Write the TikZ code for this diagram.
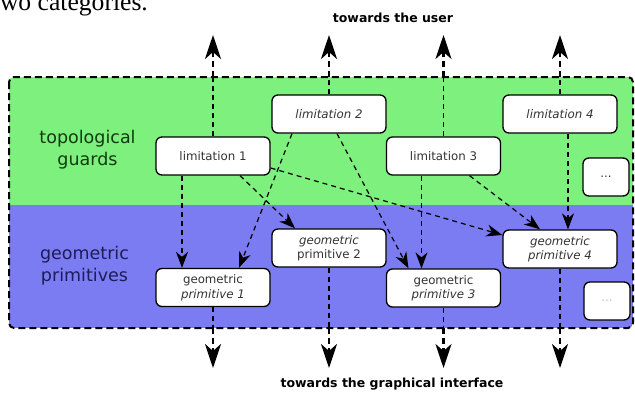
\documentclass[tikz,border=0pt]{standalone}
\usepackage{fontspec}
\setmainfont{DejaVu Sans}
\newfontfamily\docserif{Liberation Serif}
\usetikzlibrary{arrows.meta}
\definecolor{guardgreen}{HTML}{7EF07E}
\definecolor{primblue}{HTML}{7C7CF2}
\definecolor{guardtext}{HTML}{103A10}
\definecolor{primtext}{HTML}{1C1C58}
\definecolor{boxtext}{HTML}{333333}
\begin{document}
\begin{tikzpicture}[x=1pt,y=-1pt,
	box/.style={draw,line width=1.3pt,fill=white,rounded corners=6pt,minimum width=114pt,minimum height=38pt,inner sep=1pt,align=center,text=boxtext,font=\fontsize{11.8}{14.5}\selectfont},
	morebox/.style={box,minimum width=46pt},
	link/.style={line width=1.2pt,dash pattern=on 5pt off 4pt,-{Stealth[length=16pt,width=12pt,inset=5pt]}},
	exit/.style={line width=2.6pt,dash pattern=on 6pt off 4pt,-{Stealth[length=24pt,width=16pt,inset=7pt]}},
	side/.style={align=center,font=\fontsize{17.5}{22}\selectfont},
	caption/.style={font=\fontsize{12.5}{14}\selectfont\bfseries,anchor=base}]
	\useasboundingbox (0,0) rectangle (635,392);
	\node[anchor=base west,inner sep=0pt,font=\fontsize{25.6}{28}\docserif] (doc) at (-7.3,10) {two categories.};
	% the two layers
	\begin{scope}
		\clip[rounded corners=5pt] (9,77) rectangle (633,328);
		\fill[guardgreen] (9,77) rectangle (633,205);
		\fill[primblue] (9,205) rectangle (633,328);
	\end{scope}
	\draw[line width=2pt,dash pattern=on 7pt off 4pt,rounded corners=5pt] (9,77) rectangle (633,328);
	\node[side,text=guardtext] (guards) at (87.5,150) {topological\\guards};
	\node[side,text=primtext] (prims) at (84.5,266) {geometric\\primitives};
	% limitations
	\node[box] (lim1) at (213,156) {limitation 1};
	\node[box,font=\fontsize{11.8}{14.5}\selectfont\itshape] (lim2) at (329,114) {limitation 2};
	\node[box] (lim3) at (443.5,156) {limitation 3};
	\node[box,font=\fontsize{11.8}{14.5}\selectfont\itshape] (lim4) at (560,114) {limitation 4};
	\node[morebox] (more1) at (606,177) {...};
	% primitives
	\node[box] (prim1) at (213,287.5) {geometric\\\textit{primitive 1}};
	\node[box] (prim2) at (329,248) {\textit{geometric}\\primitive 2};
	\node[box] (prim3) at (443.5,288) {geometric\\\textit{primitive 3}};
	\node[box,font=\fontsize{11.8}{14.5}\selectfont\itshape] (prim4) at (560,249) {geometric\\primitive 4};
	\node[morebox,text=black!25] (more2) at (607,301) {...};
	% links between the layers
	\draw[link] ([xshift=-31pt]lim1.south) -- ([xshift=-31pt]prim1.north);
	\draw[link] ([xshift=-37pt]lim2.south) -- ([xshift=26pt]prim1.north);
	\draw[link] ([xshift=27pt]lim1.south) -- ([xshift=-34pt]prim2.north);
	\draw[link] ([yshift=-12pt]lim1.east) -- ([yshift=14pt]prim4.west);
	\draw[link] ([xshift=8pt]lim2.south) -- ([xshift=-35pt]prim3.north);
	\draw[link] ([xshift=-22pt]lim3.south) -- ([xshift=-22pt]prim3.north);
	\draw[link] ([xshift=26pt]lim3.south) -- ([xshift=-20pt]prim4.north);
	\draw[link] ([xshift=8pt]lim4.south) -- ([xshift=8pt]prim4.north);
	% towards the user
	\coordinate (b1) at (213,77); \coordinate (u1) at (213,35);
	\coordinate (b2) at (329,77); \coordinate (u2) at (329,35);
	\coordinate (b3) at (443.5,77); \coordinate (u3) at (443.5,35);
	\coordinate (b4) at (560,77); \coordinate (u4) at (560,35);
	\draw[line width=1.2pt,dash pattern=on 5pt off 4pt] (lim1) -- (b1) (lim2) -- (b2) (lim3) -- (b3) (lim4) -- (b4);
	\draw[exit] (b1) -- (u1);
	\draw[exit] (b2) -- (u2);
	\draw[exit] (b3) -- (u3);
	\draw[exit] (b4) -- (u4);
	\node[caption] (user) at (393,22) {towards the user};
	% towards the graphical interface
	\coordinate (c1) at (213,328); \coordinate (g1) at (213,368);
	\coordinate (c2) at (329,328); \coordinate (g2) at (329,368);
	\coordinate (c3) at (443.5,328); \coordinate (g3) at (443.5,368);
	\coordinate (c4) at (560,328); \coordinate (g4) at (560,368);
	\draw[line width=1.2pt,dash pattern=on 5pt off 4pt] (prim1) -- (c1) (prim2) -- (c2) (prim3) -- (c3) (prim4) -- (c4);
	\draw[exit] (c1) -- (g1);
	\draw[exit] (c2) -- (g2);
	\draw[exit] (c3) -- (g3);
	\draw[exit] (c4) -- (g4);
	\node[caption] (gui) at (392,387) {towards the graphical interface};
\end{tikzpicture}
\end{document}
